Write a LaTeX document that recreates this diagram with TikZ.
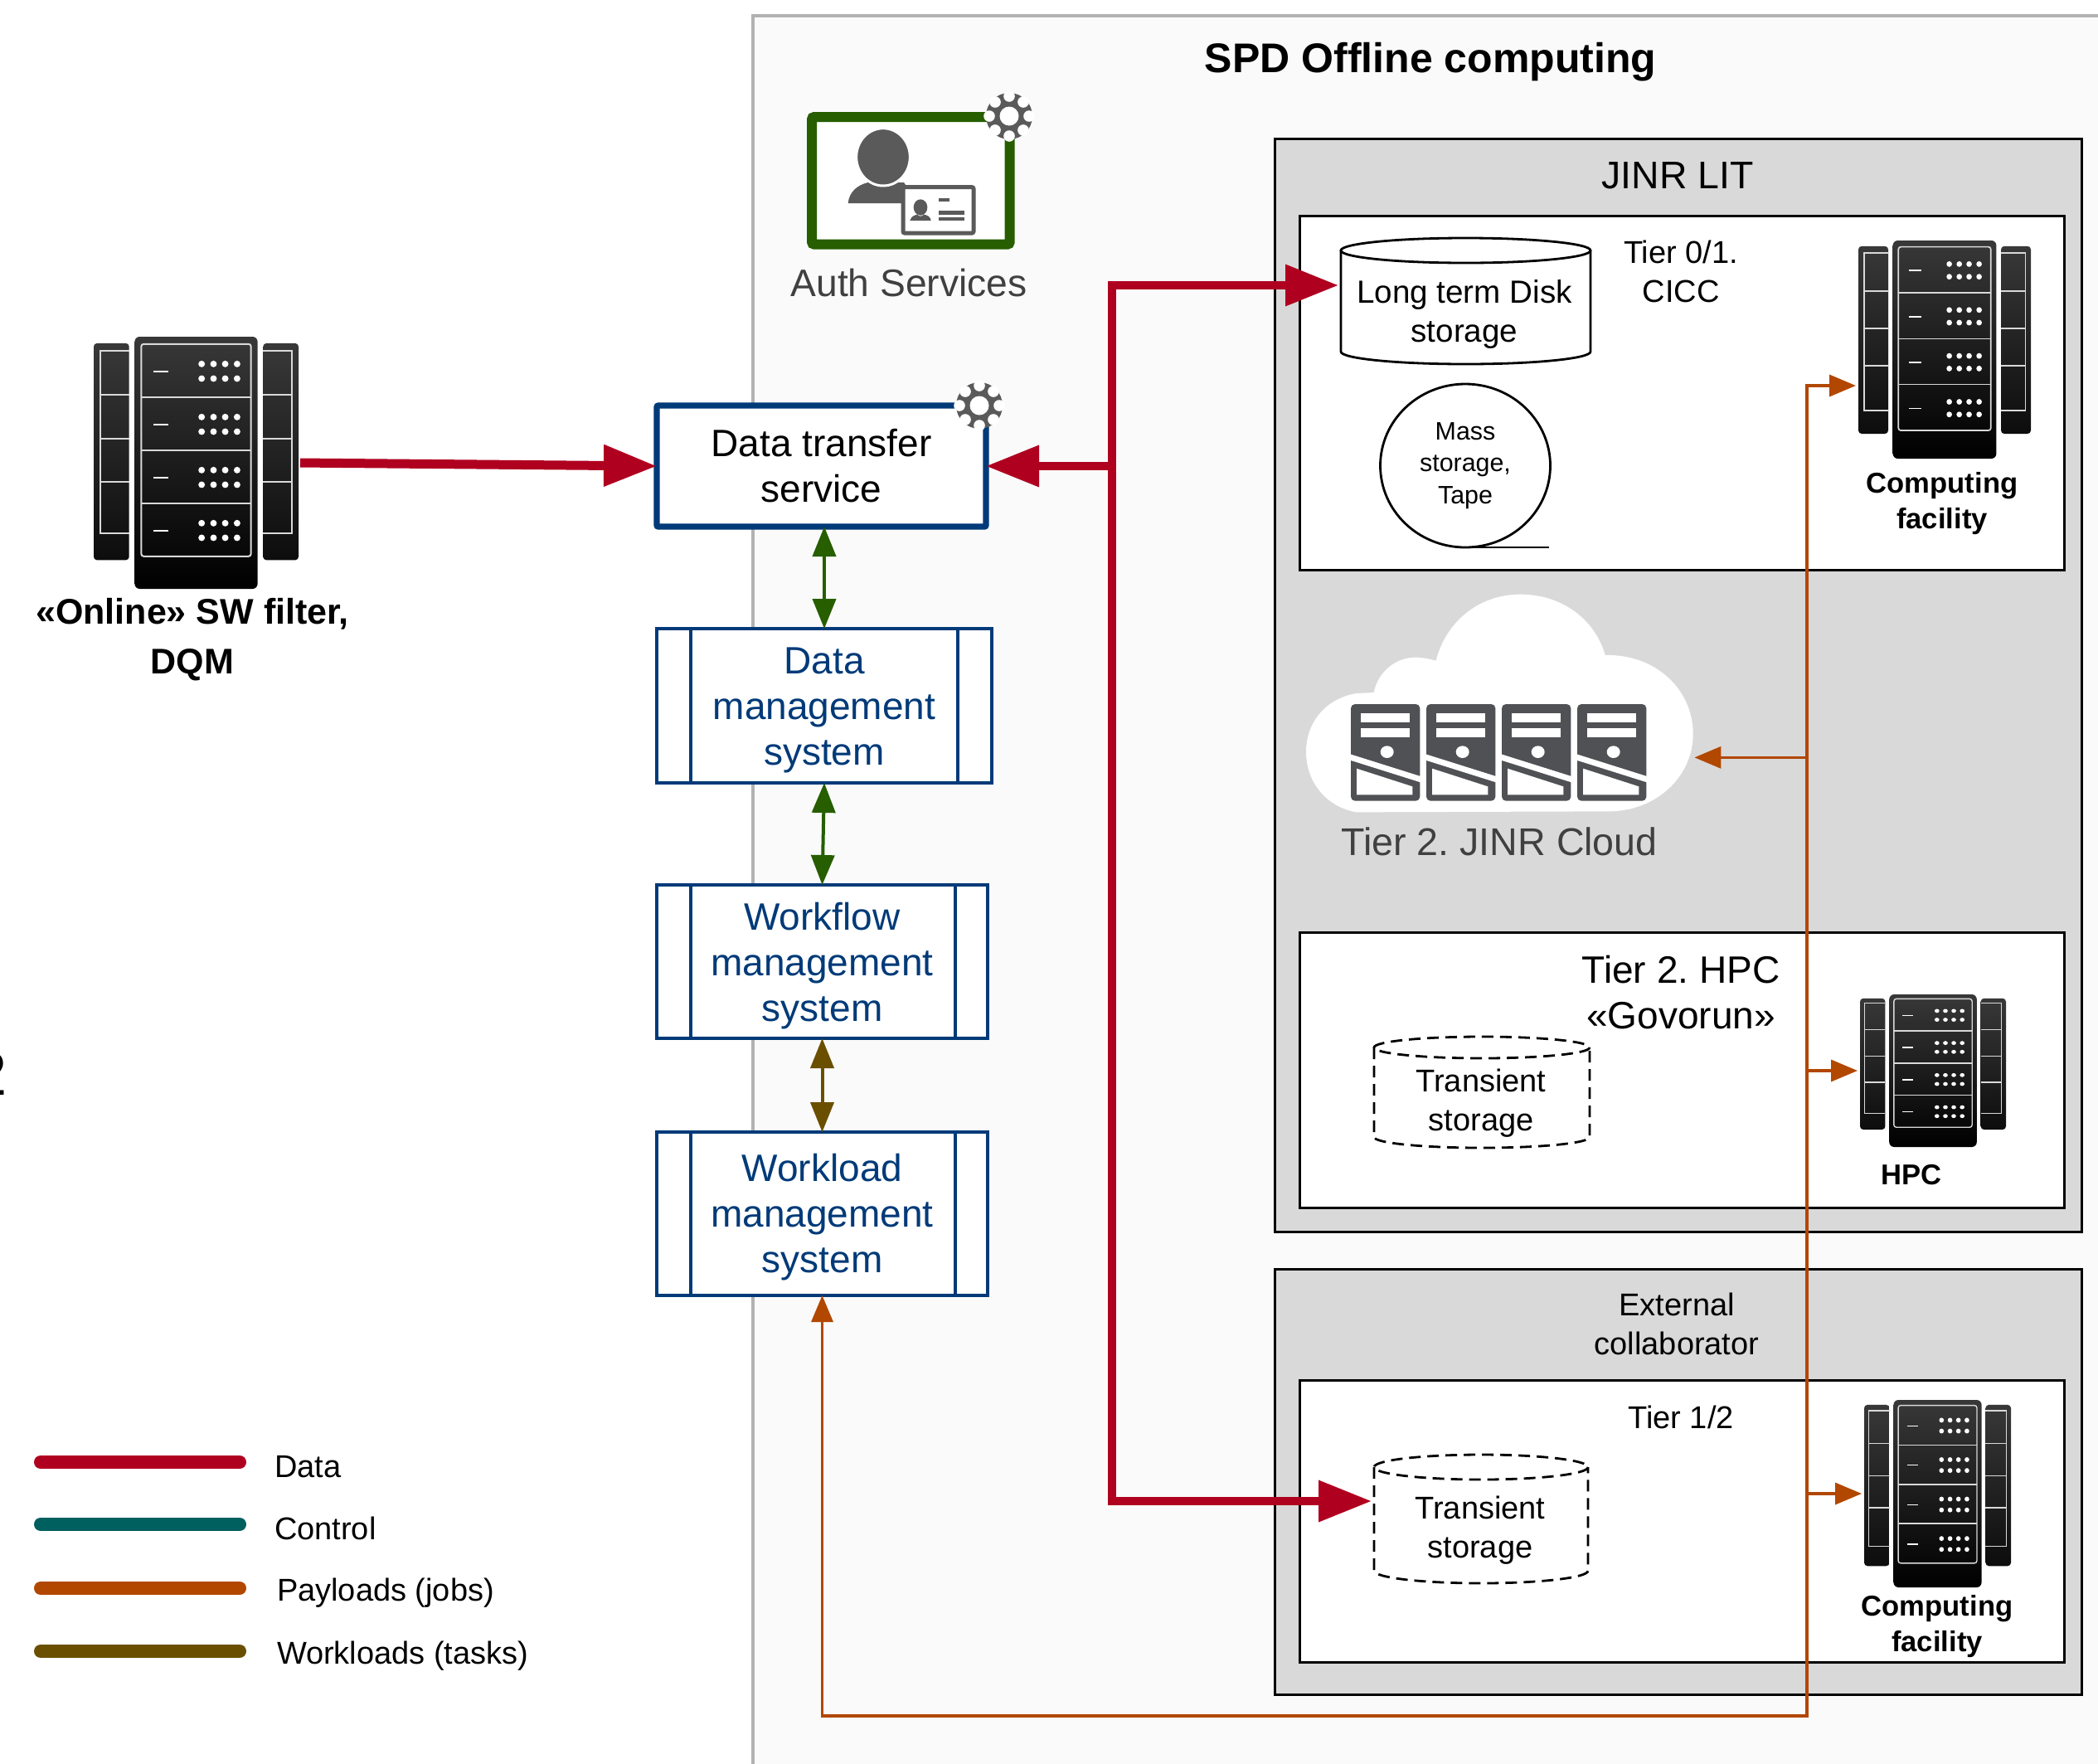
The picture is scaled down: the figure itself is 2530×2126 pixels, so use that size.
\documentclass[tikz,border=0pt]{standalone}
\usepackage{fontspec}
\setmainfont{Liberation Sans}
\usetikzlibrary{arrows.meta,calc,shapes.geometric}
\definecolor{cdata}{HTML}{B00020}
\definecolor{cctrl}{HTML}{005F5F}
\definecolor{cpay}{HTML}{B24700}
\definecolor{cwork}{HTML}{6B4F00}
\definecolor{cgreen}{HTML}{265E00}
\definecolor{cnavy}{HTML}{003A78}
\definecolor{cgear}{HTML}{5A5A5A}
\definecolor{csrv}{HTML}{505155}
\AtBeginDocument{\frenchspacing}
\tikzset{
  x=0.5pt,y=-0.5pt,
  every node/.style={inner sep=0pt,outer sep=0pt},
  panel/.style={draw=black,line width=1.5pt,fill=#1},
  sysbox/.style={draw=cnavy,line width=1.6pt,fill=white},
  systext/.style={text=cnavy,align=center,font=\fontsize{23}{27.5}\selectfont},
  lab/.style={align=center,font=\fontsize{19}{23.5}\selectfont},
  biglab/.style={align=center,font=\fontsize{23.2}{27.5}\selectfont},
  rlab/.style={align=center,font=\fontsize{17.3}{21.8}\selectfont\bfseries},
  leglab/.style={anchor=west,font=\fontsize{19}{23}\selectfont},
  legline/.style={line width=8pt,line cap=round},
  datalink/.style={draw=cdata,line width=5pt,shorten <=1.5pt,shorten >=1.5pt,{Triangle[length=32pt,width=24pt]}-{Triangle[length=32pt,width=24pt]}},
  dataone/.style={draw=cdata,line width=5pt,-{Triangle[length=32pt,width=24pt]}},
  paylink/.style={draw=cpay,line width=1.7pt},
  payone/.style={paylink,-{Triangle[length=16pt,width=13pt]}},
  paytwo/.style={paylink,{Triangle[length=16pt,width=13pt]}-{Triangle[length=16pt,width=13pt]}},
  twoway/.style={draw=#1,line width=2pt,{Triangle[length=18pt,width=14pt]}-{Triangle[length=18pt,width=14pt]}},
  cylline/.style={draw=black,line width=1.4pt},
}
% rack: name, x0, y0, x1, y1, line width
\newcommand{\rackicon}[6]{%
  \pgfmathsetmacro{\rkw}{(#4-#2)*0.5}%
  \pgfmathsetmacro{\rkh}{(#5-#3)*0.5}%
  \pgfmathsetmacro{\rkx}{(#2+#4)/2}%
  \pgfmathsetmacro{\rky}{(#3+#5)/2}%
  \node[minimum width=\rkw pt,minimum height=\rkh pt] (#1) at (\rkx,\rky) {};
  \begin{scope}[shift={(#2,#3)},x=\rkw pt,y=-\rkh pt]
    \path[top color=black!78,bottom color=black!95,rounded corners=2pt] (.173,.026) -- (0,.026) -- (0,.886) -- (.173,.886) -- cycle;
    \path[top color=black!78,bottom color=black!95,rounded corners=2pt] (.827,.026) -- (1,.026) -- (1,.886) -- (.827,.886) -- cycle;
    \path[top color=black!78,bottom color=black,rounded corners=3pt] (.2,0) rectangle (.8,1);
    \draw[white!85!black,line width=#6] (.173,.057) -- (.032,.057) -- (.032,.78) -- (.173,.78);
    \draw[white!85!black,line width=#6] (.827,.057) -- (.968,.057) -- (.968,.78) -- (.827,.78);
    \foreach \yy in {.231,.404,.575}{
      \draw[white!85!black,line width=#6] (.032,\yy) -- (.173,\yy);
      \draw[white!85!black,line width=#6] (.827,\yy) -- (.968,\yy);}
    \draw[white!85!black,line width=#6,rounded corners=1.5pt] (.232,.029) rectangle (.768,.871);
    \foreach \yy in {.24,.451,.66}{\draw[white!85!black,line width=#6] (.232,\yy) -- (.768,\yy);}
    \foreach \dy in {0,.2105,.421,.6315}{
      \draw[white,line width=#6] (.292,.138+\dy) -- (.365,.138+\dy);
      \foreach \xx in {.527,.585,.642,.7}{
        \fill[white] (\xx,.108+\dy) ellipse[x radius=.016,y radius=.013];
        \fill[white] (\xx,.166+\dy) ellipse[x radius=.016,y radius=.013];}}
  \end{scope}}
% gear: centre
\newcommand{\gearicon}[2]{%
  \begin{scope}[shift={(#1,#2)}]
    \fill[cgear] (0,0) circle[radius=28];
    \fill[white] (0,0) circle[radius=11.5];
    \foreach \ang in {0,45,...,315}{\fill[white] (\ang:24) circle[radius=6.8];}
  \end{scope}}
% cylinder body: top,x0,bottom,x1,ry,style
\newcommand{\cylshape}[6]{%
  \draw[#6] (#2,{#1+#5}) -- (#2,{#3-#5}) arc[start angle=180,end angle=0,x radius={(#4-#2)/2},y radius=#5] -- (#4,{#1+#5});
  \draw[#6] ({(#2+#4)/2},{#1+#5}) ellipse[x radius={(#4-#2)/2},y radius=#5];}
\begin{document}
\begin{tikzpicture}
\clip (0,0) rectangle (2530,2126);
\fill[white] (0,0) rectangle (2530,2126);
% clipped glyph at the left edge
\node[anchor=east,font=\fontsize{37}{37}\selectfont] (stray) at (9,1295) {2};
% main panel
\path[fill=black!2] (908,19) rectangle (2560,2160);
\draw[black!30,line width=2pt] (2560,19) -- (908,19) -- (908,2160);
\node[font=\fontsize{25}{30}\selectfont\bfseries] (title) at (1725,75) {SPD Offline computing};
% Auth
\begin{scope}[shift={(900,90)},x=0.16667pt,y=-0.16667pt]
  \draw[cgreen,line width=6pt,fill=white,rounded corners=1.5pt] (237,153) rectangle (953,614);
  \fill[cgear] (368,465) .. controls (372,425) and (400,400) .. (440,390) -- (570,390) -- (620,465) -- cycle;
  \fill[cgear,draw=white,line width=1.5pt] (495,298) ellipse[x radius=97,y radius=104];
  \draw[cgear,line width=2.5pt,fill=white,rounded corners=1pt] (567,407) rectangle (822,573);
  \fill[cgear] (630,480) ellipse[x radius=25,y radius=29];
  \fill[cgear] (592,528) .. controls (596,512) and (610,508) .. (618,506) .. controls (625,514) and (636,514) .. (642,506) .. controls (655,508) and (666,514) .. (668,528) -- cycle;
  \fill[cgear] (697,446) rectangle (735,459);
  \fill[cgear] (697,493) rectangle (790,507);
  \fill[cgear] (697,515) rectangle (790,529);
\end{scope}
\gearicon{1217}{140}
\node[biglab,text=black!75,font=\fontsize{23.1}{27}\selectfont] (auth) at (1096,341) {Auth Services};
% JINR panels
\node[panel=black!15,minimum width=486.5pt,minimum height=659pt] (jinr) at (2024,826.5) {};
\node[biglab] (jinrt) at (2023,212) {JINR LIT};
\node[panel=white,minimum width=461pt,minimum height=213.5pt] (t01) at (2028.5,473.5) {};
\node[panel=white,minimum width=461pt,minimum height=166pt] (thpc) at (2028.5,1290.5) {};
\node[panel=black!15,minimum width=486.5pt,minimum height=256.5pt] (ext) at (2024,1786.5) {};
\node[panel=white,minimum width=461pt,minimum height=170pt] (t12) at (2028.5,1834) {};
% cloud
\begin{scope}[shift={(1540,700)},x=0.16667pt,y=-0.16667pt]
  \coordinate (cloudE) at (1510,640);
  \fill[white] (288,838) .. controls (180,820) and (105,730) .. (105,620) .. controls (105,510) and (180,425) .. (288,408) -- (350,405) .. controls (365,330) and (430,278) .. (500,278) .. controls (525,278) and (550,283) .. (575,290) .. controls (610,150) and (730,50) .. (880,50) .. controls (1030,50) and (1150,140) .. (1187,270) .. controls (1370,265) and (1505,395) .. (1505,555) .. controls (1505,710) and (1370,835) .. (1200,835) -- cycle;
  \foreach \dx in {0,273,546,819}{
    \begin{scope}[shift={(\dx,0)}]
      \fill[csrv,rounded corners=2.5pt] (267,447) rectangle (517,797);
      \fill[white] (303,481) rectangle (480,513);
      \fill[white] (303,535) rectangle (480,567);
      \fill[white] (398,620) ellipse[x radius=24,y radius=22];
      \fill[white] (265,628) -- (519,708) -- (519,730) -- (265,650) -- cycle;
      \fill[white] (288,680) -- (490,745) -- (490,775) -- (288,775) -- cycle;
    \end{scope}}
\end{scope}
\node[biglab,text=black!75,font=\fontsize{23.3}{27}\selectfont] (cloudt) at (1808,1015) {Tier 2. JINR Cloud};
% storage
\cylshape{287}{1617}{439}{1918}{15}{cylline,fill=white}
\node[lab,minimum width=150.5pt,minimum height=76pt] (disk) at (1767.5,363) {};
\node[lab,font=\fontsize{19.3}{23.5}\selectfont] (diskt) at (1766,379) {Long term Disk\\storage};
\node[ellipse,draw=black,line width=1.4pt,fill=white,minimum width=102.5pt,minimum height=98.5pt,lab,font=\fontsize{15.2}{19.4}\selectfont] (tape) at (1767,561.5) {Mass\\storage,\\Tape};
\draw[cylline] (tape.south) -- ++(101,0);
\node[lab] (t01t) at (2027,327) {Tier 0/1.\\CICC};
\node[biglab,font=\fontsize{23}{27.5}\selectfont] (hpct) at (2027,1197) {Tier 2. HPC\\«Govorun»};
\cylshape{1250}{1657}{1384}{1917}{13}{cylline,dash pattern=on 7pt off 4pt}
\node[lab,minimum width=130pt,minimum height=67pt] (ts1) at (1787,1317) {};
\node[lab] (ts1t) at (1786,1330) {Transient\\storage};
\node[lab] (extt) at (2022,1596) {External\\collaborator};
\node[lab] (t12t) at (2027,1709) {Tier 1/2};
\cylshape{1754}{1657}{1909}{1915}{15}{cylline,dash pattern=on 7pt off 4pt}
\node[lab,minimum width=129pt,minimum height=77.5pt] (ts2) at (1786,1831.5) {};
\node[lab] (ts2t) at (1785,1845) {Transient\\storage};
% racks
\rackicon{rack0}{113}{406}{360}{710}{1pt}
\rackicon{rackA}{2241}{290}{2449}{553}{.85pt}
\rackicon{rackB}{2243}{1199}{2419}{1383}{.7pt}
\rackicon{rackC}{2248}{1688}{2425}{1914}{.7pt}
\node[rlab,font=\fontsize{21.5}{30}\selectfont\bfseries] (onl) at (232,771) {«Online» SW filter,\\DQM};
\node[rlab] (rackAt) at (2342,607) {Computing\\facility};
\node[rlab] (rackBt) at (2305,1417) {HPC};
\node[rlab] (rackCt) at (2336,1961) {Computing\\facility};
% systems
\node[sysbox,line width=3.7pt,rounded corners=1pt,systext,text=black,minimum width=198.5pt,minimum height=73pt] (dts) at (990.5,562) {Data transfer\\service};
\gearicon{1181}{489}
\node[sysbox,minimum width=202pt,minimum height=93pt] (dms) at (994,851) {};
\node[systext] (dmst) at (994,856) {Data\\management\\system};
\node[sysbox,minimum width=199.5pt,minimum height=92.5pt] (wms) at (991.5,1159.5) {};
\node[systext] (wmst) at (991.5,1165) {Workflow\\management\\system};
\node[sysbox,minimum width=199.5pt,minimum height=98.5pt] (wlms) at (991.5,1463.5) {};
\node[systext] (wlmst) at (991.5,1468) {Workload\\management\\system};
\foreach \bb/\rs in {dms/20.5pt,wms/19.5pt,wlms/19.5pt}{
  \draw[cnavy,line width=1.6pt] ([xshift=20.5pt]\bb.north west) -- ([xshift=20.5pt]\bb.south west);
  \draw[cnavy,line width=1.6pt] ([xshift=-\rs]\bb.north east) -- ([xshift=-\rs]\bb.south east);}
% payload links
\coordinate (payT) at (2179,465);
\coordinate (payB) at (2179,2069);
\draw[paytwo,shorten <=1.5pt] (payT -| rackA.west) -- (payT) -- (payB) -- (payB -| wlms.south) -- (wlms.south);
\draw[payone] (payT |- cloudE) -- (cloudE);
\draw[payone,shorten >=1.5pt] (payT |- rackB.west) -- (rackB.west);
\draw[payone,shorten >=1.5pt] (payT |- rackC.west) -- (rackC.west);
% control links
\draw[twoway=cgreen] (dts.south -| dms.north) -- (dms.north);
\draw[twoway=cgreen] (dms.south) -- (wms.north);
\draw[twoway=cwork] (wms.south) -- (wlms.north);
% data links
\coordinate (trT) at (1341,344);
\coordinate (trB) at (1341,1810);
\draw[datalink] (trT -| disk.west) -- (trT) -- (trB) -- (trB -| ts2.west);
\draw[dataone] (trT |- dts.east) -- (dts.east);
\draw[dataone,line width=5.5pt,shorten <=1pt] (rack0.east) -- (dts.west);
% legend
\coordinate (lg1) at (49,1763);\coordinate (lg2) at (49,1838);\coordinate (lg3) at (49,1915);\coordinate (lg4) at (49,1991);
\draw[legline,cdata] (lg1) -- ++(240,0);
\draw[legline,cctrl] (lg2) -- ++(240,0);
\draw[legline,cpay] (lg3) -- ++(240,0);
\draw[legline,cwork] (lg4) -- ++(240,0);
\node[leglab] (l1) at (331,1769) {Data};
\node[leglab] (l2) at (331,1843) {Control};
\node[leglab] (l3) at (334,1921) {Payloads (jobs)};
\node[leglab] (l4) at (334,1997) {Workloads (tasks)};
\end{tikzpicture}
\end{document}
